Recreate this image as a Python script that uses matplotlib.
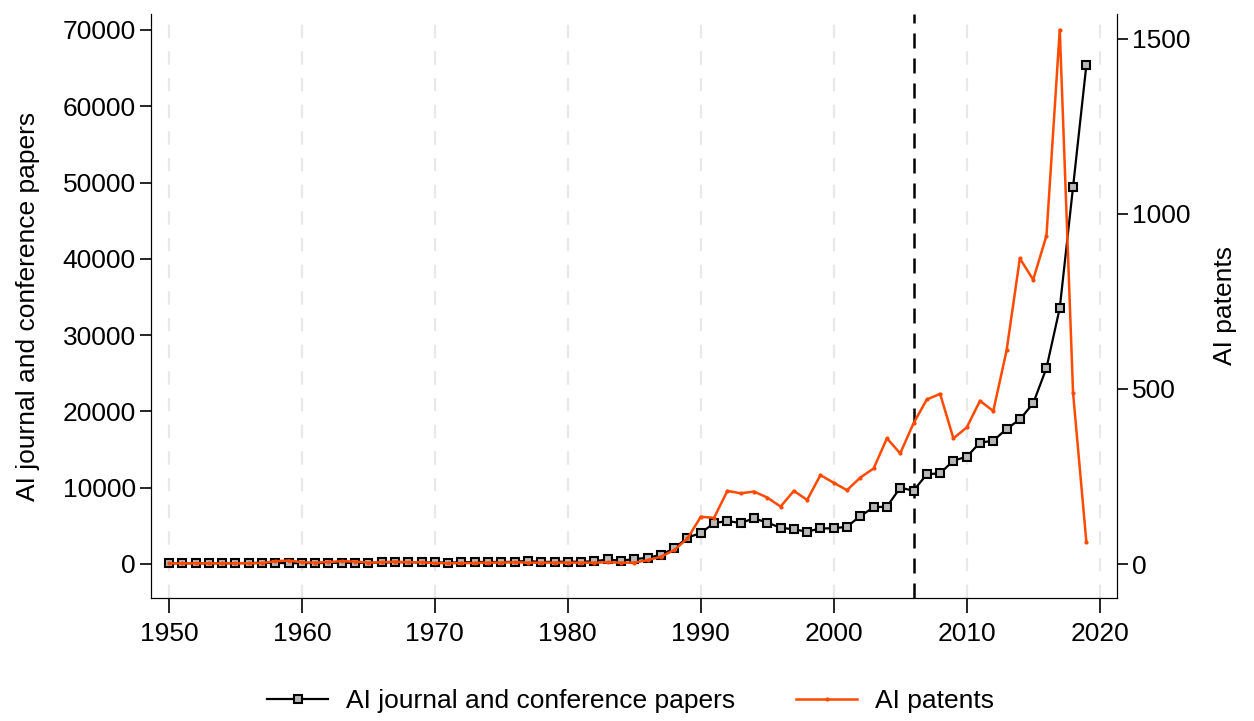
import matplotlib
matplotlib.use("Agg")
import matplotlib.pyplot as plt

plt.rcParams['font.family'] = ['Liberation Sans', 'DejaVu Sans']

years = list(range(1950, 2020))

# AI journal and conference papers (left axis)
papers = [100, 100, 100, 100, 110, 120, 130, 140, 150, 100,
          120, 120, 140, 160, 150, 160, 200, 220, 250, 200,
          200, 180, 220, 250, 280, 250, 300, 400, 250, 300,
          300, 300, 350, 600, 430, 650, 800, 1200, 2050, 3450,
          4060, 5370, 5630, 5370, 5990, 5420, 4760, 4540, 4240, 4670,
          4670, 4890, 6290, 7430, 7520, 10000, 9610, 11760, 11890, 13540,
          14070, 15900, 16160, 17700, 18960, 21060, 25690, 33560, 49420, 65410]

# AI patents (right axis)
patents = [2, 2, 2, 2, 2, 2, 2, 3, 8, 10,
           5, 4, 6, 8, 7, 4, 5, 7, 5, 5,
           3, 2, 3, 3, 4, 4, 5, 4, 4, 4,
           4, 4, 4, 5, 4, 4, 11, 21, 40, 73,
           135, 132, 209, 202, 207, 190, 164, 209, 183, 254,
           232, 211, 247, 273, 359, 316, 402, 470, 486, 359,
           390, 466, 437, 610, 873, 812, 938, 1526, 489, 63]

xticks = list(range(1950, 2021, 10))
left_ticks = list(range(0, 70001, 10000))
right_ticks = [0, 500, 1000, 1500]
cutoff_year = 2006

fs = 19

fig = plt.figure(figsize=(12.54, 7.21), dpi=100)
ax = fig.add_axes([0.1204, 0.1706, 0.7703, 0.81])
ax2 = ax.twinx()

for x in xticks:
    ax.axvline(x, color='#e8e8e8', lw=1.6, ls=(0, (6, 6)), zorder=0)
ax.axvline(cutoff_year, color='black', lw=1.8, ls=(0, (6, 4)), zorder=1)

l1, = ax.plot(years, papers, color='black', lw=1.6, marker='s', markersize=6,
              markerfacecolor='#b8b8b8', markeredgecolor='black', markeredgewidth=1.5,
              label='AI journal and conference papers', zorder=3)
l2, = ax2.plot(years, patents, color='#ff4a00', lw=1.8, marker='o', markersize=2,
               label='AI patents', zorder=4)

ax.set_xlim(1948.65, 2021.3)
ax.set_ylim(-4457, 72095)
ax2.set_ylim(-97, 1571)

ax.set_xticks(xticks)
ax.set_yticks(left_ticks)
ax2.set_yticks(right_ticks)

for a in (ax, ax2):
    a.spines['top'].set_visible(False)
    a.tick_params(labelsize=fs, width=1.2, length=8, direction='out', pad=3)
ax.tick_params(axis='x', length=11, pad=6)
ax.set_ylabel('AI journal and conference papers', fontsize=fs, labelpad=16)
ax2.set_ylabel('AI patents', fontsize=fs, labelpad=16)

fig.legend([l1, l2], ['AI journal and conference papers', 'AI patents'],
           loc='lower center', bbox_to_anchor=(0.503, -0.022), ncol=2,
           frameon=False, fontsize=fs, handlelength=2.3, handletextpad=0.7,
           columnspacing=2.3)

fig.savefig('out.png', dpi=100)
